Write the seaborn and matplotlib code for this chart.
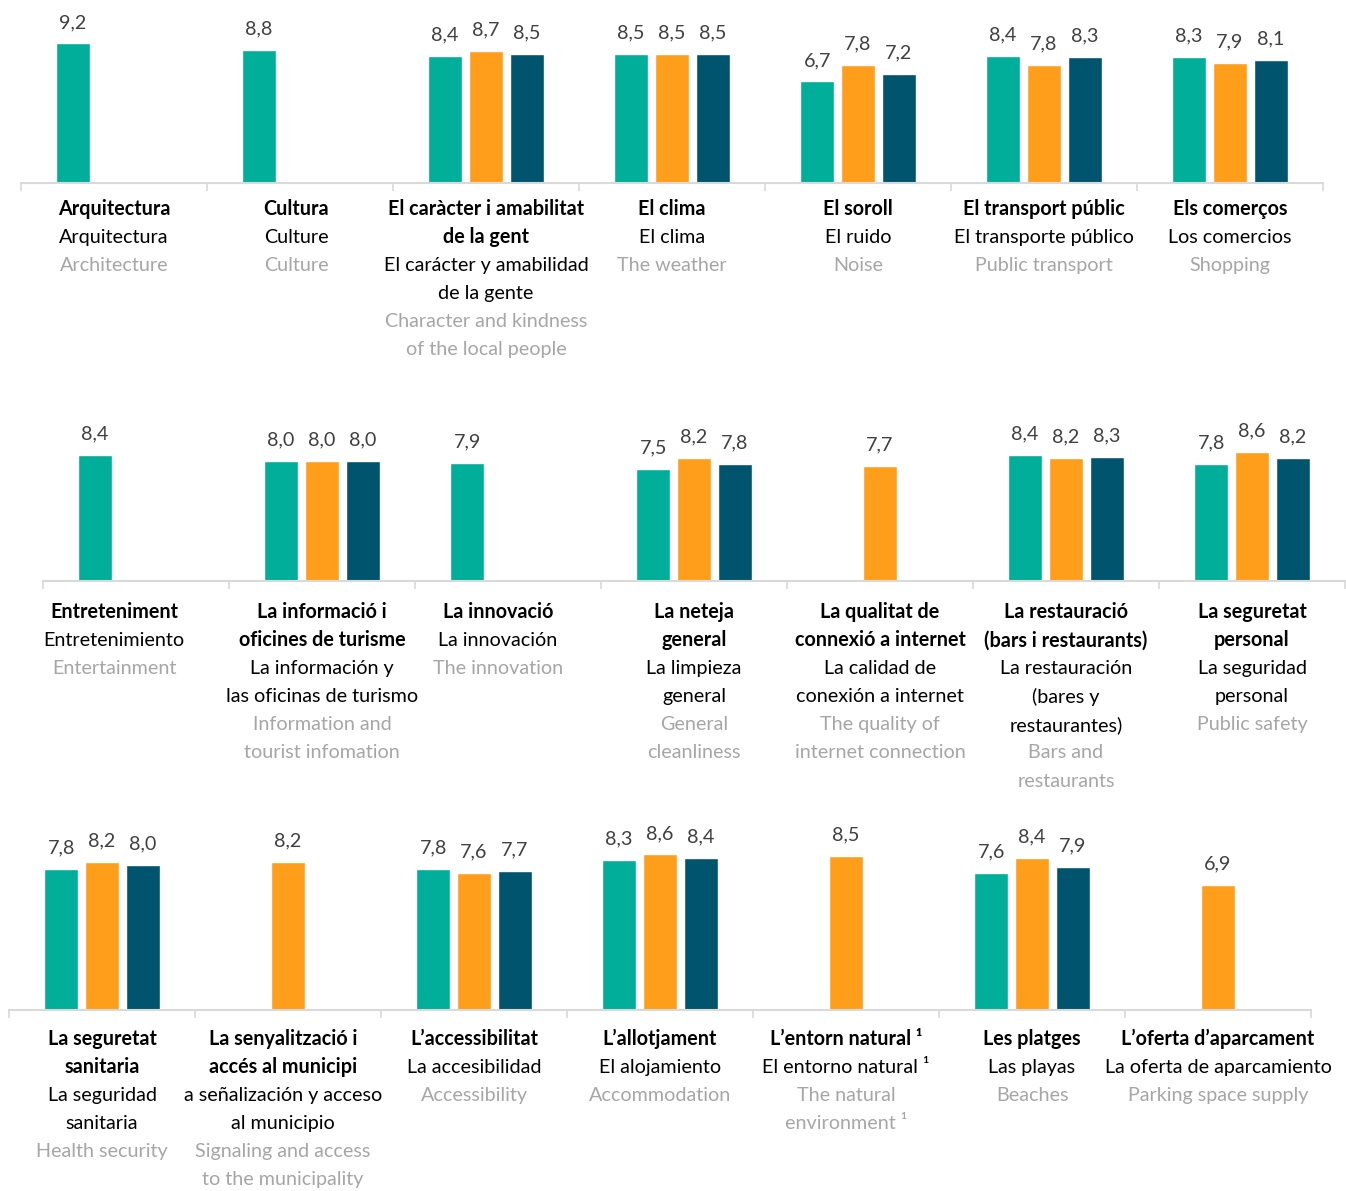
import numpy as np
import pandas as pd
import seaborn as sns
import matplotlib.pyplot as plt

sns.set_style("white")
plt.rcParams['font.family'] = ['Lato', 'DejaVu Sans']

nan = np.nan
series = ["serie 1", "serie 2", "serie 3"]
colors = ["#00AE9A", "#FF9E1B", "#00546E"]

# Row 1
row1_ca = ["Arquitectura", "Cultura", "El caràcter i amabilitat\nde la gent", "El clima",
           "El soroll", "El transport públic", "Els comerços"]
row1_es = ["Arquitectura", "Culture", "El carácter y amabilidad\nde la gente", "El clima",
           "El ruido", "El transporte público", "Los comercios"]
row1_en = ["Architecture", "Culture", "Character and kindness\nof the local people", "The weather",
           "Noise", "Public transport", "Shopping"]
row1_teal = [9.2, 8.8, 8.4, 8.5, 6.7, 8.4, 8.3]
row1_orange = [nan, nan, 8.7, 8.5, 7.8, 7.8, 7.9]
row1_blue = [nan, nan, 8.5, 8.5, 7.2, 8.3, 8.1]

# Row 2
row2_ca = ["Entreteniment", "La informació i\noficines de turisme", "La innovació", "La neteja\ngeneral",
           "La qualitat de\nconnexió a internet", "La restauració\n(bars i restaurants)", "La seguretat\npersonal"]
row2_es = ["Entretenimiento", "La información y\nlas oficinas de turismo", "La innovación", "La limpieza\ngeneral",
           "La calidad de\nconexión a internet", "La restauración\n(bares y\nrestaurantes)", "La seguridad\npersonal"]
row2_en = ["Entertainment", "Information and\ntourist infomation", "The innovation", "General\ncleanliness",
           "The quality of\ninternet connection", "Bars and\nrestaurants", "Public safety"]
row2_teal = [8.4, 8.0, 7.9, 7.5, nan, 8.4, 7.8]
row2_orange = [nan, 8.0, nan, 8.2, 7.7, 8.2, 8.6]
row2_blue = [nan, 8.0, nan, 7.8, nan, 8.3, 8.2]

# Row 3
row3_ca = ["La seguretat\nsanitaria", "La senyalització i\naccés al municipi", "L’accessibilitat", "L’allotjament",
           "L’entorn natural ¹", "Les platges", "L’oferta d’aparcament"]
row3_es = ["La seguridad\nsanitaria", "a señalización y acceso\nal municipio", "La accesibilidad", "El alojamiento",
           "El entorno natural ¹", "Las playas", "La oferta de aparcamiento"]
row3_en = ["Health security", "Signaling and access\nto the municipality", "Accessibility", "Accommodation",
           "The natural\nenvironment ¹", "Beaches", "Parking space supply"]
row3_teal = [7.8, nan, 7.8, 8.3, nan, 7.6, nan]
row3_orange = [8.2, 8.2, 7.6, 8.6, 8.5, 8.4, 6.9]
row3_blue = [8.0, nan, 7.7, 8.4, nan, 7.9, nan]

fig = plt.figure(figsize=(13.46, 11.91), dpi=100)
FS = 14.2
PX = 0.72  # points per pixel at dpi 100


def draw_row(ax, ca, es, en, teal, orange, blue, first_px, label_dx=None):
    df = pd.DataFrame({
        "cat": ca * 3,
        "serie": [s for s in series for _ in ca],
        "val": teal + orange + blue,
    }).dropna()
    sns.barplot(df, x="cat", y="val", hue="serie", order=ca, hue_order=series,
                palette=colors, width=0.66, gap=0.18, saturation=1,
                errorbar=None, legend=False, ax=ax)
    for c in ax.containers:
        ax.bar_label(c, labels=[f"{v:.1f}".replace(".", ",") for v in c.datavalues],
                     padding=9, fontsize=FS, color="#404040")
    ax.set_xlim(-0.5, 6.5)
    ax.set_ylim(0, 12)
    ax.set_xlabel("")
    ax.set_ylabel("")
    ax.set_yticks([])
    ax.set_xticks(np.arange(-0.5, 7, 1))
    ax.set_xticklabels([])
    ax.tick_params(axis='x', bottom=True, length=6, width=1.2, color="#D9D9D9", direction='out')
    for s in ["top", "left", "right"]:
        ax.spines[s].set_visible(False)
    ax.spines["bottom"].set_color("#D9D9D9")
    ax.spines["bottom"].set_linewidth(1.5)

    # three-language labels under each group
    label_dx = label_dx or {}
    for i in range(len(ca)):
        lines = [(t, "bold", "black") for t in ca[i].split("\n")]
        lines += [(t, "normal", "black") for t in es[i].split("\n")]
        lines += [(t, "normal", "#A6A6A6") for t in en[i].split("\n")]
        dx = label_dx.get(i, 0)
        for k, (txt, w, col) in enumerate(lines):
            ax.annotate(txt, xy=(i, 0), xycoords="data",
                        xytext=(dx * PX, -(first_px + k * 28.2) * PX), textcoords="offset points",
                        ha="center", va="center", fontsize=FS, fontweight=w, color=col,
                        annotation_clip=False)


W, H = 1346, 1191
ax1 = fig.add_axes([21 / W, 1 - 183 / H, 1302 / W, 182 / H])
draw_row(ax1, row1_ca, row1_es, row1_en, row1_teal, row1_orange, row1_blue, 26, {1: -4})

ax2 = fig.add_axes([43 / W, 1 - 581 / H, 1302 / W, 180 / H])
draw_row(ax2, row2_ca, row2_es, row2_en, row2_teal, row2_orange, row2_blue, 31, {0: -22, 2: -10})

ax3 = fig.add_axes([9 / W, 1 - 1010 / H, 1302 / W, 217 / H])
draw_row(ax3, row3_ca, row3_es, row3_en, row3_teal, row3_orange, row3_blue, 29, {1: -5})

fig.savefig("out.png", dpi=100)
